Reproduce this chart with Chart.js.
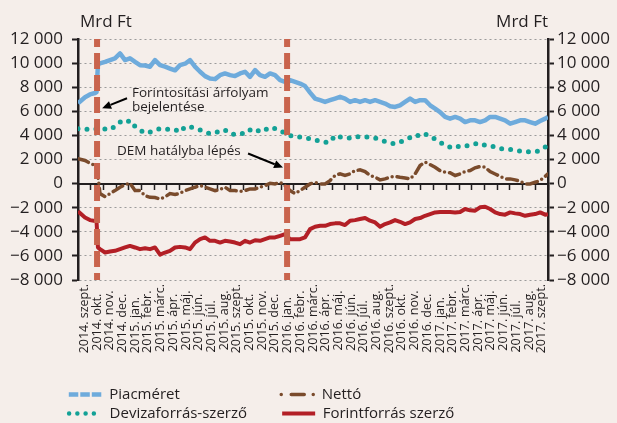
<!DOCTYPE html>
<html><head><meta charset="utf-8">
<script src="https://cdn.jsdelivr.net/npm/chart.js@4.4.1/dist/chart.umd.min.js"></script>
<style>
html,body{margin:0;padding:0;background:#f5eeea;}
#wrap{width:617px;height:423px;position:relative;background:#f5eeea;}
canvas{display:block;}
</style></head><body>
<div id="wrap"><canvas id="c" width="617" height="423"></canvas></div>
<script>
// ---- categories / tick labels ----
const monthLabels = [
 "2014. szept.","2014. okt.","2014. nov.","2014. dec.",
 "2015. jan.","2015. febr.","2015. márc.","2015. ápr.","2015. máj.","2015. jún.","2015. júl.","2015. aug.","2015. szept.","2015. okt.","2015. nov.","2015. dec.",
 "2016. jan.","2016. febr.","2016. márc.","2016. ápr.","2016. máj.","2016. jún.","2016. júl.","2016. aug.","2016. szept.","2016. okt.","2016. nov.","2016. dec.",
 "2017. jan.","2017. febr.","2017. márc.","2017. ápr.","2017. máj.","2017. jún.","2017. júl.","2017. aug.","2017. szept."
];
const seriesNames = ["Piacméret","Nettó","Devizaforrás-szerző","Forintforrás szerző"];
const unitLabel = "Mrd Ft";

// ---- x positions of readings (months; 0 = 2014. szept.) ----
const xMonths = [-0.5,0.05,0.44,0.84,0.96,1.07,
 1.23,1.63,2.02,2.41,2.81,3.20,3.59,3.99,4.38,4.78,
 5.17,5.56,5.96,6.35,6.74,7.14,7.53,7.93,8.32,8.71,
 9.11,9.50,9.89,10.29,10.68,11.07,11.47,11.86,12.26,12.65,
 13.04,13.44,13.83,14.22,14.62,15.01,15.41,15.80,16.19,16.59,
 16.98,17.37,17.77,18.16,18.56,18.95,19.34,19.74,20.13,20.52,
 20.92,21.31,21.70,22.10,22.49,22.89,23.28,23.67,24.07,24.46,
 24.85,25.25,25.64,26.04,26.43,26.82,27.22,27.61,28.00,28.40,
 28.79,29.19,29.58,29.97,30.37,30.76,31.15,31.55,31.94,32.34,
 32.73,33.12,33.52,33.91,34.31,34.70,35.09,35.49,35.88,36.28,
 36.5];

// ---- series values (Mrd Ft) ----
const piacmeret = [6660,7170,7400,7520,7600,9900,
 9970,10100,10250,10390,10800,10250,10400,10100,9830,9800,
 9700,10250,9830,9700,9550,9400,9830,9950,10250,9700,
 9280,8920,8720,8670,9000,9140,9000,8920,9140,9280,
 8860,9420,9000,8860,9140,9000,8580,8440,8580,8440,
 8300,8100,7550,7060,6920,6780,6920,7060,7200,7060,
 6780,6920,6780,6920,6780,6920,6780,6640,6420,6360,
 6500,6780,7060,6780,6920,6920,6500,6220,5940,5530,
 5390,5530,5390,5110,5250,5250,5110,5250,5530,5530,
 5390,5250,4970,5110,5250,5250,5110,4970,5190,5390,
 5530];
const netto = [2060,1920,1690,1500,1400,700,
 -830,-1080,-830,-580,-300,-100,30,-580,-580,-1000,
 -1140,-1160,-1280,-1100,-830,-900,-800,-580,-440,-300,
 -170,-300,-440,-580,-500,-300,-580,-580,-640,-580,
 -440,-440,-300,-170,30,-30,110,-170,-580,-830,
 -580,-300,-30,110,-30,-30,250,670,810,670,
 810,1080,1140,1000,670,530,310,390,530,600,
 530,470,390,810,1500,1780,1580,1360,1080,940,
 900,670,810,1000,1080,1310,1420,1360,1000,800,
 600,390,390,310,190,-30,-30,110,250,600,
 810];
const devizaforras = [4560,4520,4480,4520,4540,4560,
 4560,4520,4480,4750,5110,5000,5250,4750,4450,4190,
 4280,4420,4560,4560,4450,4480,4280,4720,4720,4560,
 4450,4280,4140,4280,4280,4450,4140,4080,4190,4140,
 4450,4560,4280,4450,4670,4560,4450,4140,4000,3860,
 3860,3810,3720,3580,3580,3440,3440,4000,3860,3860,
 3780,3920,3860,3860,3860,3780,3640,3500,3360,3300,
 3440,3640,3810,3810,4140,4140,3860,3720,3440,3170,
 3030,3170,3030,3080,3220,3300,3360,3170,3170,3030,
 2890,2890,2830,2750,2700,2640,2640,2640,2750,3030,
 3170];
const forintforras = [-2300,-2810,-3030,-3100,-3150,-5300,
 -5440,-5720,-5640,-5580,-5440,-5300,-5170,-5300,-5440,-5360,
 -5440,-5300,-5900,-5720,-5580,-5300,-5250,-5300,-5440,-4900,
 -4610,-4470,-4750,-4750,-4890,-4750,-4800,-4890,-5030,-4750,
 -4890,-4700,-4750,-4610,-4470,-4470,-4330,-4190,-4610,-4610,
 -4610,-4470,-3780,-3580,-3500,-3500,-3360,-3300,-3300,-3440,
 -3080,-3030,-2940,-2860,-3080,-3220,-3580,-3360,-3220,-3030,
 -3170,-3360,-3220,-2940,-2860,-2670,-2530,-2390,-2360,-2360,
 -2360,-2390,-2360,-2110,-2220,-2250,-1970,-1920,-2110,-2390,
 -2530,-2580,-2390,-2470,-2530,-2670,-2580,-2530,-2390,-2580,
 -2530];

// ---- events & annotations (data units) ----
const eventMonths = [1.0, 15.96];
const noteTexts = [["Forintosítási árfolyam","bejelentése"],["DEM hatályba lépés"]];
const noteAnchors = [[3.75, 7500],[2.57, 2670]];
const arrowFrom = [[3.36, 7080],[12.89, 2500]];
const arrowTo = [[1.40, 6250],[15.64, 1330]];

const yMin = -8000, yMax = 12000, yStep = 2000;

// ---- styling ----
const FONT = "'Open Sans', 'DejaVu Sans', sans-serif";
const TXT = '#231f20';
const colors = ['#6eabdc','#7a4b2c','#13a196','#b31f26'];
Chart.defaults.font.family = FONT;
Chart.defaults.color = TXT;

const mctx = document.createElement('canvas').getContext('2d');
function textW(t, font){ mctx.font = font; return mctx.measureText(t).width; }
function padTo(t, w, font){ let s = t; while (textW(s + ' ', font) <= w) s += ' '; return s; }

const xFont = "12.5px " + FONT;
const xMaxW = Math.max(...monthLabels.map(l => textW(l, xFont)));
const xLabelsPadded = monthLabels.map(l => padTo(l, xMaxW, xFont));

const legFont = "15px " + FONT;
const legendWidths = [170.5, 227.5, 170.5, 227.5];
const legendStyles = [
  {w:4.5, dash:[9.5,2], cap:'butt'},
  {w:3.5, dash:[0,10,13,9,0,99], cap:'round'},
  {w:4.5, dash:[0,8.25], cap:'round'},
  {w:4, dash:[], cap:'butt'}
];

function fmt(v){
  const s = Math.abs(v).toString().replace(/\B(?=(\d{3})+(?!\d))/g, ' ');
  return (v < 0 ? '\u2212' : '') + s;
}
const pts = arr => xMonths.map((x, i) => ({x, y: arr[i]}));

const overlay = {
  id: 'overlay',
  afterDatasetsDraw(chart){
    const {ctx, chartArea, scales:{x}} = chart;
    ctx.save();
    ctx.strokeStyle = '#c9644d';
    ctx.lineWidth = 6;
    ctx.setLineDash([16,6]);
    ctx.lineDashOffset = 8;
    eventMonths.forEach(m => {
      const px = x.getPixelForValue(m);
      ctx.beginPath(); ctx.moveTo(px, chartArea.top); ctx.lineTo(px, chartArea.bottom); ctx.stroke();
    });
    ctx.restore();
  },
  afterDraw(chart){
    const {ctx, chartArea, scales:{x, y}} = chart;
    ctx.save();
    ctx.fillStyle = TXT;
    ctx.font = "17px " + FONT;
    ctx.textBaseline = 'middle';
    ctx.textAlign = 'left';
    ctx.fillText(unitLabel, chartArea.left + 2, chartArea.top - 17);
    ctx.textAlign = 'right';
    ctx.fillText(unitLabel, chartArea.right, chartArea.top - 17);
    // notes
    ctx.font = "13.5px " + FONT;
    ctx.textAlign = 'left';
    noteTexts.forEach((lines, k) => {
      const px = x.getPixelForValue(noteAnchors[k][0]);
      const py = y.getPixelForValue(noteAnchors[k][1]);
      lines.forEach((t, j) => ctx.fillText(t, px, py + j * 14));
    });
    // arrows
    ctx.strokeStyle = '#000'; ctx.fillStyle = '#000'; ctx.lineWidth = 2;
    arrowFrom.forEach((f, k) => {
      const x1 = x.getPixelForValue(f[0]), y1 = y.getPixelForValue(f[1]);
      const x2 = x.getPixelForValue(arrowTo[k][0]), y2 = y.getPixelForValue(arrowTo[k][1]);
      const a = Math.atan2(y2 - y1, x2 - x1);
      const hl = 9, hw = 4;
      const bx = x2 - hl * Math.cos(a), by = y2 - hl * Math.sin(a);
      ctx.beginPath(); ctx.moveTo(x1, y1); ctx.lineTo(bx, by); ctx.stroke();
      ctx.beginPath();
      ctx.moveTo(x2, y2);
      ctx.lineTo(bx + hw * Math.sin(a), by - hw * Math.cos(a));
      ctx.lineTo(bx - hw * Math.sin(a), by + hw * Math.cos(a));
      ctx.closePath(); ctx.fill();
    });
    ctx.restore();
  }
};

const yAxisBase = {
  type: 'linear', min: yMin, max: yMax,
  ticks: { stepSize: yStep, font: {size: 17}, color: TXT, callback: v => fmt(v) },
};

new Chart(document.getElementById('c'), {
  type: 'line',
  data: {
    datasets: [
      {label: seriesNames[0], data: pts(piacmeret), borderColor: colors[0], backgroundColor: colors[0], borderWidth: 4.5, pointRadius: 0, borderJoinStyle: 'round', yAxisID: 'y'},
      {label: seriesNames[1], data: pts(netto), borderColor: colors[1], backgroundColor: colors[1], borderWidth: 3.5, borderDash: [11,5,0,5], borderCapStyle: 'round', pointRadius: 0, yAxisID: 'y'},
      {label: seriesNames[2], data: pts(devizaforras), borderColor: colors[2], backgroundColor: colors[2], borderWidth: 5, borderDash: [0,9], borderCapStyle: 'round', pointRadius: 0, yAxisID: 'y'},
      {label: seriesNames[3], data: pts(forintforras), borderColor: colors[3], backgroundColor: colors[3], borderWidth: 4, pointRadius: 0, borderJoinStyle: 'round', yAxisID: 'y'}
    ]
  },
  options: {
    responsive: false,
    animation: false,
    events: [],
    layout: { padding: {top: 39, bottom: -8, left: 0, right: 0} },
    plugins: {
      tooltip: {enabled: false},
      legend: {
        position: 'bottom',
        labels: {
          usePointStyle: true, pointStyleWidth: 33, boxHeight: 15, padding: 4,
          font: {size: 15}, color: TXT,
          generateLabels(chart){
            return chart.data.datasets.map((ds, i) => ({
              text: padTo(ds.label, legendWidths[i], legFont),
              fillStyle: ds.borderColor, strokeStyle: ds.borderColor,
              lineWidth: legendStyles[i].w, lineDash: legendStyles[i].dash, lineCap: legendStyles[i].cap,
              pointStyle: 'line', hidden: false, datasetIndex: i, fontColor: TXT
            }));
          }
        }
      }
    },
    scales: {
      x: {
        type: 'linear', position: 'bottom', min: -0.5, max: 36.5,
        afterBuildTicks: s => { s.ticks = monthLabels.map((_, i) => ({value: i})); },
        afterFit: s => { s.height = 103; },
        grid: {display: false, drawTicks: false},
        border: {display: false},
        ticks: { autoSkip: false, minRotation: 90, maxRotation: 90, padding: 4, font: {size: 12.5}, color: TXT,
          callback: (v, i) => xLabelsPadded[i] }
      },
      x2: {
        type: 'linear', position: {y: 0}, min: -0.5, max: 36.5,
        afterBuildTicks: s => { s.ticks = monthLabels.concat(['']).map((_, i) => ({value: i - 0.5})); },
        grid: {drawOnChartArea: false, drawTicks: true, tickLength: 5, tickColor: TXT, tickWidth: 1.5},
        border: {display: true, color: TXT, width: 2},
        ticks: {display: false}
      },
      y: Object.assign({}, yAxisBase, {
        position: 'left',
        afterFit: s => { s.width = 78; },
        grid: {color: '#9b9b9b', lineWidth: 1, tickColor: TXT, tickLength: 6, tickWidth: 2},
        border: {display: true, color: TXT, width: 2.5, dash: [2,3]},
        ticks: Object.assign({}, yAxisBase.ticks, {padding: 9})
      }),
      y2: Object.assign({}, yAxisBase, {
        position: 'right',
        afterFit: s => { s.width = 69; },
        grid: {drawOnChartArea: false, tickColor: TXT, tickLength: 6, tickWidth: 2},
        border: {display: true, color: TXT, width: 2.5},
        ticks: Object.assign({}, yAxisBase.ticks, {padding: 3})
      })
    }
  },
  plugins: [overlay]
});
</script>
</body></html>
